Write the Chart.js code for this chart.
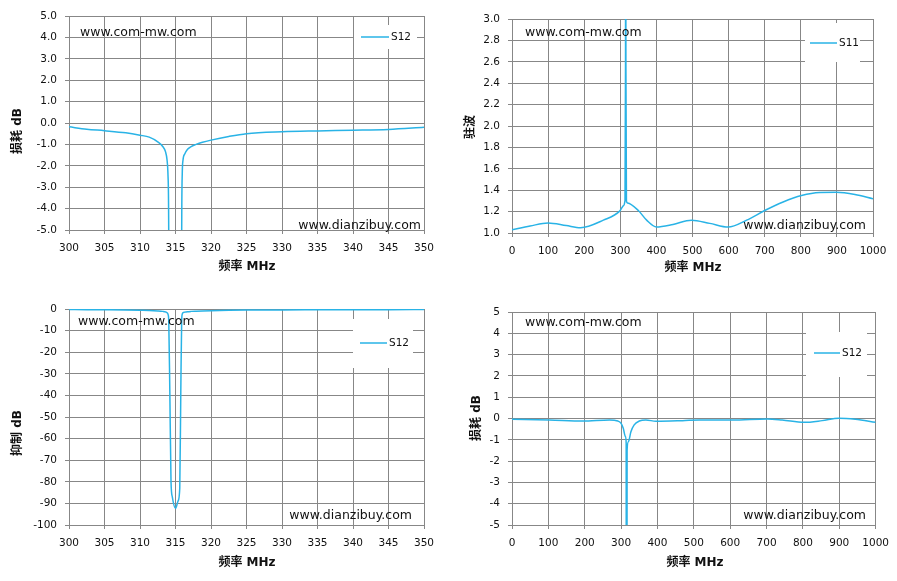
<!DOCTYPE html>
<html>
<head>
<meta charset="utf-8">
<script src="https://cdn.jsdelivr.net/npm/chart.js@4/dist/chart.umd.min.js"></script>
<style>
  body { margin: 0; background: #fff; }
  canvas { position: absolute; }
</style>
</head>
<body>
<canvas id="c1" width="450" height="290" style="left:0;top:0"></canvas>
<canvas id="c2" width="447" height="290" style="left:450px;top:0"></canvas>
<canvas id="c3" width="450" height="291" style="left:0;top:290px"></canvas>
<canvas id="c4" width="447" height="291" style="left:450px;top:290px"></canvas>
<script>
// narrow sweep 300-350 MHz, S12 (dB) - used by both left charts
var narrowFreq = [300, 302.5, 305, 308, 310, 311.3, 312.5, 313.2, 313.6, 313.8, 313.95, 314.05, 314.2, 314.37, 314.55,
                  315.0, 315.35, 315.6, 315.75, 315.87, 315.95, 316.05, 316.3, 316.7, 317.2, 317.9, 318.8, 320,
                  322.5, 325, 330, 335, 340, 345, 350];
var narrowS12  = [-0.18, -0.29, -0.36, -0.46, -0.57, -0.66, -0.88, -1.1, -1.35, -1.7, -2.5, -5.5, -38, -80, -87,
                  -92.3, -89, -83, -37, -5.5, -2.4, -1.75, -1.45, -1.23, -1.1, -1.0, -0.9, -0.8,
                  -0.63, -0.5, -0.41, -0.37, -0.34, -0.3, -0.2];
// wide sweep 0-1000 MHz, S11 (VSWR)
var vswrFreq = [0, 50, 100, 150, 190, 253, 299, 310, 313, 314.5, 315, 315.5, 317, 320, 350, 373, 400, 446, 497, 548,
                599, 650, 700, 751, 802, 852, 899, 950, 1000];
var vswrS11  = [1.03, 1.065, 1.094, 1.07, 1.05, 1.12, 1.207, 1.26, 1.3, 2.6, 8, 2.6, 1.3, 1.28, 1.21, 1.12, 1.056, 1.08,
                1.12, 1.09, 1.055, 1.12, 1.21, 1.29, 1.35, 1.378, 1.38, 1.36, 1.32];
// wide sweep 0-1000 MHz, S12 (dB)
var wideFreq = [0, 103, 195, 268, 291, 300, 306, 312, 314, 314.6, 315, 315.4, 316.5, 320, 327, 336, 350, 368, 396,
                469, 515, 606, 702, 743, 803, 853, 899, 944, 1000];
var wideS12  = [-0.04, -0.07, -0.12, -0.07, -0.12, -0.23, -0.46, -0.85, -1.16, -30, -92, -30, -1.5, -1.09, -0.62,
                -0.3, -0.12, -0.07, -0.13, -0.1, -0.07, -0.07, -0.02, -0.07, -0.18, -0.1, 0.01, -0.04, -0.18];

var siteTop = 'www.com-mw.com';
var siteBottom = 'www.dianzibuy.com';
var freqTitle = '频率 MHz';
var lineColor = '#29B3E6';
var gridColor = '#878787';
var inkColor = '#111';
var textFont = '"DejaVu Sans", "Noto Sans CJK SC"';

function toPoints(xs, ys) {
    return xs.map(function(x, i) { return {x: x, y: ys[i]}; });
}

// draws watermarks, the boxed legend and the axis titles at fixed spots
var decor = {
    id: 'decor',
    afterDraw: function(chart, args, o) {
        var ctx = chart.ctx;
        ctx.save();
        ctx.fillStyle = inkColor;
        ctx.textBaseline = 'middle';
        ctx.font = '12.5px ' + textFont;
        ctx.textAlign = 'left';
        ctx.fillText(siteTop, o.markTop[0], o.markTop[1]);
        ctx.textAlign = 'right';
        ctx.fillText(siteBottom, o.markBottom[0], o.markBottom[1]);
        // legend box covers the grid
        var b = o.legendBox;
        ctx.fillStyle = '#fff';
        ctx.fillRect(b[0], b[1], b[2], b[3]);
        var ds = chart.data.datasets[0];
        ctx.strokeStyle = ds.borderColor;
        ctx.lineWidth = 1.5;
        ctx.beginPath();
        ctx.moveTo(o.legendLine[0], o.legendLine[2]);
        ctx.lineTo(o.legendLine[1], o.legendLine[2]);
        ctx.stroke();
        ctx.fillStyle = inkColor;
        ctx.textAlign = 'left';
        ctx.font = '10.5px ' + textFont;
        ctx.fillText(ds.label, o.legendLine[1] + 2, o.legendLine[2]);
        // axis titles
        ctx.font = 'bold 12px ' + textFont;
        ctx.textAlign = 'center';
        ctx.fillText(freqTitle, o.xTitle[0], o.xTitle[1]);
        ctx.translate(o.yTitle[0], o.yTitle[1]);
        ctx.rotate(-Math.PI / 2);
        ctx.fillText(o.yText, 0, 0);
        ctx.restore();
    }
};

function makeChart(id, xs, ys, label, sx, sy, box, deco) {
    return new Chart(document.getElementById(id), {
        type: 'scatter',
        data: {
            datasets: [{
                label: label,
                data: toPoints(xs, ys),
                showLine: true,
                borderColor: lineColor,
                borderWidth: 1.5,
                pointRadius: 0,
                cubicInterpolationMode: 'monotone'
            }]
        },
        options: {
            responsive: false,
            animation: false,
            events: [],
            layout: { padding: { left: 0, right: box.right, top: box.top, bottom: 0 } },
            plugins: { legend: { display: false }, tooltip: { enabled: false }, decor: deco },
            scales: {
                x: {
                    type: 'linear', min: sx[0], max: sx[1],
                    afterFit: function(s) { s.height = box.xh; },
                    grid: { color: gridColor, tickLength: 4 },
                    border: { color: gridColor },
                    ticks: {
                        stepSize: sx[2], padding: 8, color: inkColor, font: { family: textFont, size: 10.5 },
                        maxRotation: 0, minRotation: 0, autoSkip: false,
                        callback: function(v) { return String(v); }
                    }
                },
                y: {
                    min: sy[0], max: sy[1],
                    afterFit: function(s) { s.width = box.yw; },
                    grid: { color: gridColor, tickLength: 4 },
                    border: { color: gridColor },
                    ticks: {
                        stepSize: sy[2], padding: 8, color: inkColor, font: { family: textFont, size: 10.5 },
                        callback: function(v) { return v.toFixed(sy[3]); }
                    }
                }
            }
        },
        plugins: [decor]
    });
}

makeChart('c1', narrowFreq, narrowS12, 'S12', [300, 350, 5], [-5, 5, 1, 1],
    { right: 26, top: 16, xh: 60, yw: 69 },
    { markTop: [80, 33], markBottom: [421, 226], legendBox: [354, 25, 63, 24], legendLine: [361, 389, 37],
      xTitle: [247, 267], yTitle: [18, 131], yText: '损耗 dB' });
makeChart('c2', vswrFreq, vswrS11, 'S11', [0, 1000, 100], [1, 3, 0.2, 1],
    { right: 24, top: 19, xh: 57, yw: 62 },
    { markTop: [75, 33], markBottom: [416, 226], legendBox: [355, 23, 55, 39], legendLine: [360, 387, 43],
      xTitle: [243, 268], yTitle: [21, 127], yText: '驻波' });
makeChart('c3', narrowFreq, narrowS12, 'S12', [300, 350, 5], [-100, 0, 10, 0],
    { right: 26, top: 19, xh: 56, yw: 69 },
    { markTop: [78, 32], markBottom: [412, 226], legendBox: [353, 29, 60, 49], legendLine: [360, 387, 53],
      xTitle: [247, 273], yTitle: [18, 143], yText: '抑制 dB' });
makeChart('c4', wideFreq, wideS12, 'S12', [0, 1000, 100], [-5, 5, 1, 0],
    { right: 20, top: 22, xh: 56, yw: 62 },
    { markTop: [75, 33], markBottom: [416, 226], legendBox: [356, 42, 61, 45], legendLine: [364, 390, 63],
      xTitle: [245, 273], yTitle: [27, 128], yText: '损耗 dB' });
</script>
</body>
</html>
